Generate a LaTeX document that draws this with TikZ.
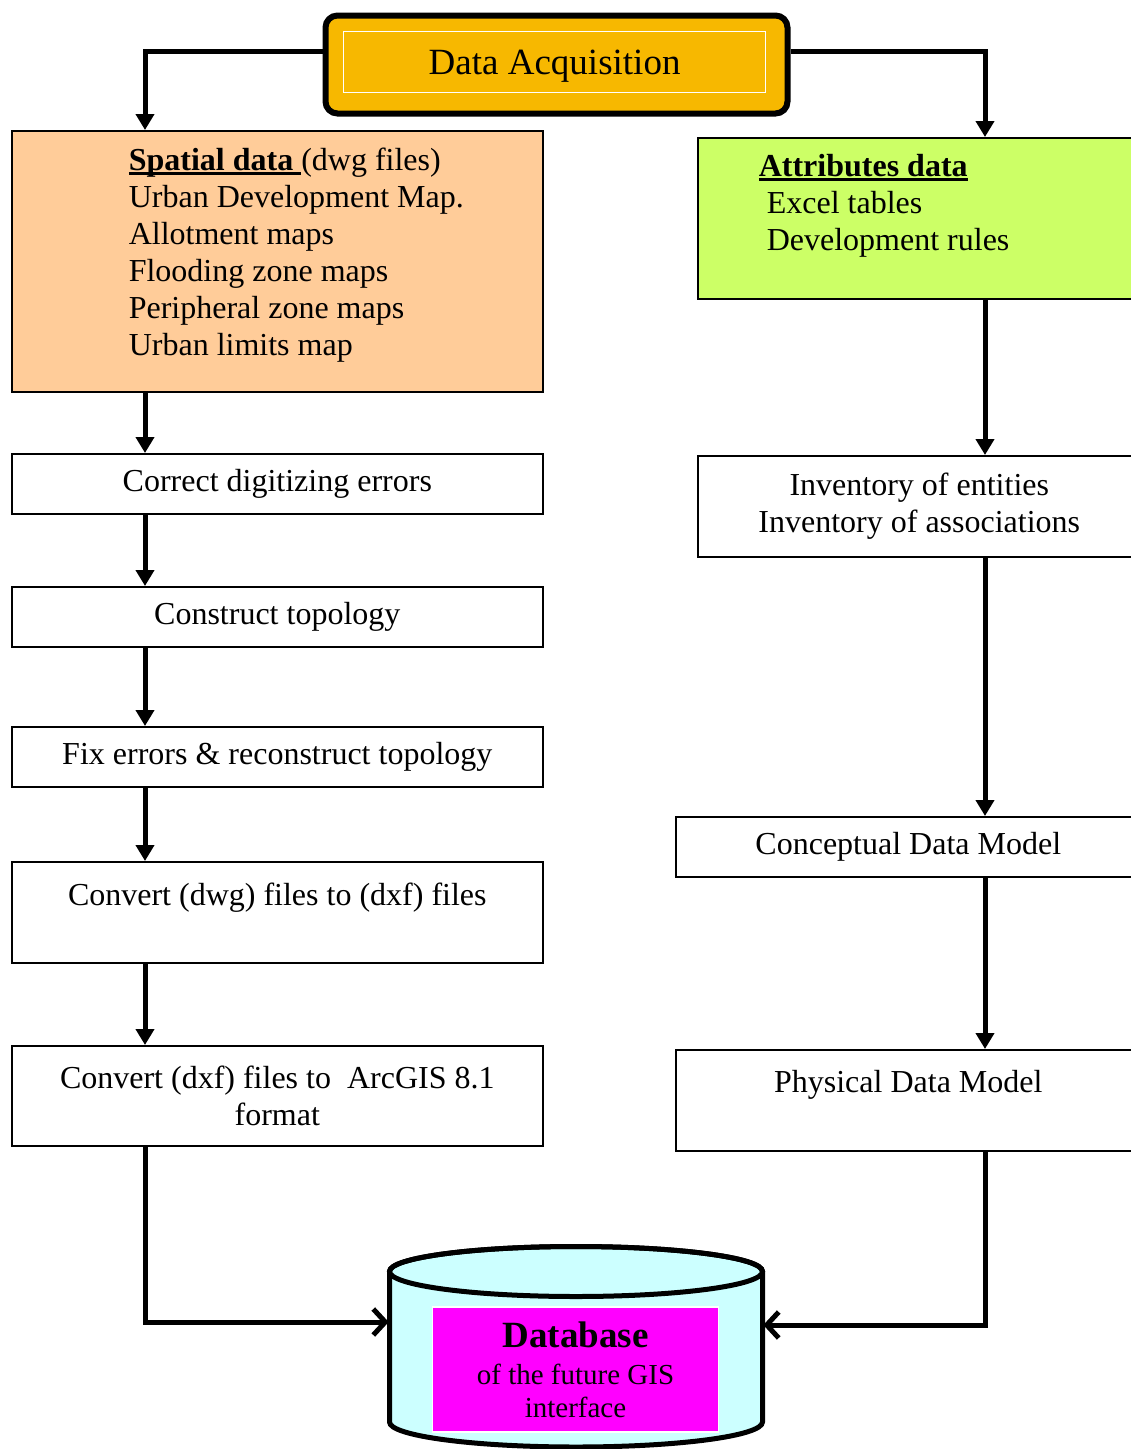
\documentclass[tikz,border=0pt]{standalone}
\usepackage{fontspec}
\setmainfont{Liberation Serif}
\usetikzlibrary{arrows.meta,positioning}

\definecolor{acqorange}{HTML}{F7B800}
\definecolor{spatialpeach}{HTML}{FFCC99}
\definecolor{attrlime}{HTML}{CCFF66}
\definecolor{dbcyan}{HTML}{CCFFFF}
\definecolor{dbmagenta}{HTML}{FF00FF}

\newcommand\boxfont{\fontsize{32}{37}\selectfont}
\newcommand\wordul[1]{\setbox0\hbox{#1}\rlap{\rule[-5pt]{\wd0}{3pt}}\box0}

\begin{document}
\begin{tikzpicture}
[x=1pt, y=-1pt, line width=1.6pt,
box/.style={rectangle, draw, inner sep=0pt, anchor=north west, align=center, font=\boxfont},
flow/.style={line width=5pt, -{Triangle[length=16pt,width=18pt]}},
feed/.style={line width=5pt, -{Straight Barb[length=12pt,width=26pt,line width=5pt]}}]

\useasboundingbox (0,0) rectangle (1131,1449);

\coordinate (lcol) at (145,0);
\coordinate (rcol) at (985,0);

% title
\node[draw, line width=6pt, rounded corners=12pt, fill=acqorange, minimum width=462, minimum height=98, anchor=north west] (acq) at (322.5,12.5) {};
\node[draw=white, line width=1.2pt, minimum width=422, minimum height=61, anchor=north west, text depth=0pt, font=\fontsize{37}{42}\selectfont] (acqlabel) at (343,31) {Data Acquisition};

% left column
\node[box, fill=spatialpeach, minimum width=531, minimum height=261] (spatial) at (11,130) {};
\node[anchor=base west, align=left, inner sep=0pt, font=\boxfont] (spatialtxt) at (128,355) {\wordul{\textbf{Spatial data}\ }(dwg files)\\Urban Development Map.\\Allotment maps\\Flooding zone maps\\Peripheral zone maps\\Urban limits map};

\node[box, minimum width=531, minimum height=60] (correct) at (11,453) {Correct digitizing errors};
\node[box, minimum width=531, minimum height=60] (topology) at (11,586) {Construct topology};
\node[box, minimum width=531, minimum height=60] (fix) at (11,726) {Fix errors \& reconstruct topology};
\node[box, minimum width=531, minimum height=101] (dwgconv) at (11,861) {Convert (dwg) files to (dxf) files\\\mbox{}};
\node[box, minimum width=531, minimum height=100] (dxfconv) at (11,1045) {Convert (dxf) files to\ \ ArcGIS 8.1\\format};

% right column
\node[box, fill=attrlime, minimum width=443, minimum height=161] (attr) at (697,137) {};
\node[anchor=base west, align=left, inner sep=0pt, font=\boxfont] (attrtxt) at (758,250) {\wordul{\textbf{Attributes data}}\\\hspace*{8pt}Excel tables\\\hspace*{8pt}Development rules};

\node[box, minimum width=443, minimum height=101] (inventory) at (697,455) {Inventory of entities\\Inventory of associations};
\node[box, minimum width=465, minimum height=60] (conceptual) at (675,816) {Conceptual Data Model};
\node[box, minimum width=465, minimum height=101] (physical) at (675,1049) {Physical Data Model\\\mbox{}};

% database
\path[draw, line width=5pt, fill=dbcyan] (389.5,1422) arc[start angle=180, end angle=360, x radius=186.5pt, y radius=25pt]
  -- (762.5,1271.5) arc[start angle=0, end angle=180, x radius=186.5pt, y radius=25pt] -- cycle;
\draw[line width=5pt] (576,1271.5) ellipse[x radius=186.5pt, y radius=25pt];
\node[minimum width=373, minimum height=150, inner sep=0pt] (db) at (576,1346.75) {};
\node[draw=white, line width=1.2pt, fill=dbmagenta, minimum width=286, minimum height=125, align=center, font=\fontsize{29}{33}\selectfont] (dblabel) at (575.5,1369.5)
  {{\fontsize{37}{37}\selectfont\bfseries Database}\\[4pt]of the future GIS\\interface};

% connectors
\draw[flow] ([yshift=13.5pt]acq.west) -| (spatial.north -| lcol);
\draw[flow] ([yshift=13.5pt]acq.east) -| (attr.north -| rcol);
\draw[flow] (spatial.south -| lcol) -- (correct.north -| lcol);
\draw[flow] (correct.south -| lcol) -- (topology.north -| lcol);
\draw[flow] (topology.south -| lcol) -- (fix.north -| lcol);
\draw[flow] (fix.south -| lcol) -- (dwgconv.north -| lcol);
\draw[flow] (dwgconv.south -| lcol) -- (dxfconv.north -| lcol);
\draw[flow] (attr.south -| rcol) -- (inventory.north -| rcol);
\draw[flow] (inventory.south -| rcol) -- (conceptual.north -| rcol);
\draw[flow] (conceptual.south -| rcol) -- (physical.north -| rcol);
\draw[feed] (dxfconv.south -| lcol) |- ([yshift=24.75pt]db.west);
\draw[feed] (physical.south -| rcol) |- ([yshift=21.75pt]db.east);
\end{tikzpicture}
\end{document}
